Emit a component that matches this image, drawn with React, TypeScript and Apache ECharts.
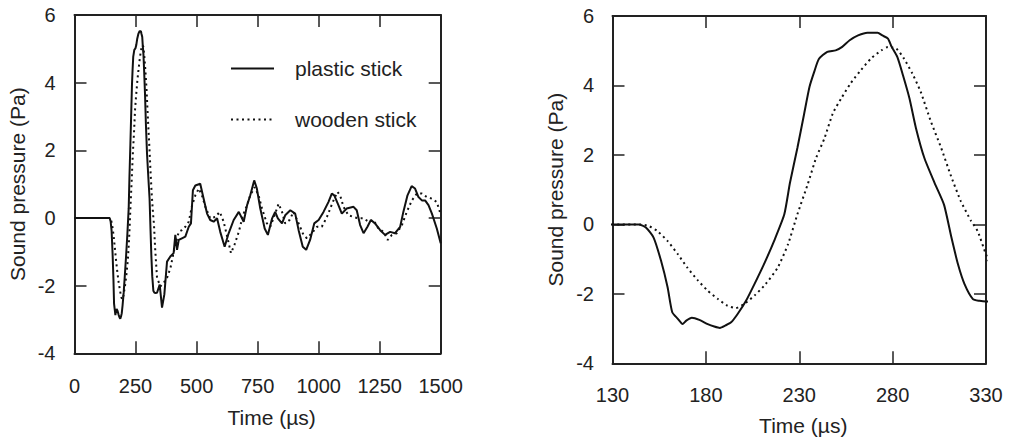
import React, { useEffect, useRef } from "react";
import * as echarts from "echarts";

// Plastic stick (solid line): time in µs, sound pressure in Pa
const plasticTime = [
  0, 144, 148, 152, 156, 159.5, 162, 165, 167.5, 169.5, 172.5, 176.5, 181, 184.5, 187.5, 190.5, 193.5, 197,
  201.5, 206, 211.5, 216.5, 222, 225, 229, 232.5, 235.5, 238, 240.5, 245, 249.5, 253, 257, 261.5, 266.5, 272,
  274.5, 277.5, 279.5, 282.5, 285.5, 289, 292.5, 297, 302.5, 307.5, 311.5, 315, 318.5, 323, 326.5, 330,
  338, 349, 358.5, 368, 379, 392.5, 406, 413, 420, 427, 440, 454, 468, 477, 485, 495, 515, 529, 543, 556, 570,
  584, 597, 615, 631, 652, 673, 693, 707, 720, 736, 747, 761, 779, 792, 809, 822, 833, 850, 863, 884, 904, 918,
  935, 949, 965, 982, 1000, 1020, 1040, 1054, 1064, 1081, 1095, 1115, 1143, 1156, 1170, 1184, 1200, 1214, 1231,
  1252, 1272, 1293, 1313, 1334, 1347, 1364, 1381, 1395, 1409, 1423, 1436, 1450, 1464, 1484, 1500,
];
const plasticPressure = [
  0, 0, -0.1, -0.38, -1.05, -1.81, -2.53, -2.72, -2.87, -2.77, -2.69, -2.75, -2.87, -2.94, -2.98, -2.91, -2.82, -2.58,
  -2.2, -1.72, -1.1, -0.48, 0.29, 1.19, 2.2, 3.15, 3.96, 4.39, 4.76, 4.97, 5.01, 5.11, 5.3, 5.44, 5.52, 5.52,
  5.44, 5.35, 5.11, 4.82, 4.3, 3.63, 2.77, 1.91, 1.19, 0.57, -0.38, -1.15, -1.72, -2.15, -2.2, -2.22,
  -2.21, -1.97, -2.65, -2.26, -1.29, -1.14, -1.04, -0.5, -0.94, -0.65, -0.6, -0.55, -0.26, -0.16, 0.82, 0.96, 1.01, 0.57, 0.13, -0.06, -0.11,
  -0.01, -0.41, -0.85, -0.46, -0.06, 0.18, -0.11, 0.38, 0.67, 1.11, 0.87, 0.28, -0.31, -0.5, -0.02, 0.18, -0.01, -0.16, 0.08, 0.23, 0.13, -0.36,
  -0.85, -0.94, -0.65, -0.16, -0.06, 0.18, 0.47, 0.72, 0.67, 0.38, 0.13, 0.28, 0.33, 0.23, -0.21, -0.45, -0.26, -0.06, -0.16,
  -0.36, -0.5, -0.41, -0.45, -0.26, 0.18, 0.67, 0.94, 0.87, 0.62, 0.52, 0.52, 0.38, 0.13, -0.31, -0.75,
];

// Wooden stick (dotted line)
const woodenTime = [
  0, 145, 149.5, 154, 159.5, 165, 170, 175.5, 181, 186.5, 191.5, 196, 200.5, 206, 212, 218.5, 224, 229, 234.5,
  239, 243.5, 248, 252.5, 257.5, 263, 268.5, 274, 277.5, 282, 286, 290.5, 295, 300.5, 306, 311, 316.5, 322,
  325.5, 330,
  338, 352, 365, 379, 393, 404, 413, 427, 440, 454, 468, 482, 495, 509, 522, 536, 556, 577, 595, 611, 627, 641,
  655, 673, 690, 707, 720, 738, 754, 768, 788, 802, 822, 836, 850, 863, 881, 897, 918, 938, 952, 972, 993, 1013,
  1034, 1058, 1077, 1088, 1102, 1122, 1143, 1163, 1184, 1204, 1225, 1245, 1266, 1283, 1300, 1320, 1341, 1361,
  1382, 1402, 1423, 1443, 1464, 1484, 1500,
];
const woodenPressure = [
  0, 0, -0.05, -0.19, -0.48, -0.86, -1.24, -1.6, -1.91, -2.15, -2.34, -2.41, -2.29, -2.05, -1.72, -1.24, -0.57, 0.29, 1.15,
  1.91, 2.48, 3.2, 3.63, 4.06, 4.44, 4.78, 5.01, 5.11, 5.06, 4.78, 4.35, 3.82, 2.96, 2.2, 1.43, 0.67, 0.1,
  -0.19, -0.86,
  -1.77, -2.02, -1.92, -1.77, -1.48, -1.09, -0.8, -0.41, -0.36, -0.26, -0.11, 0.38, 0.67, 0.87, 0.67, 0.33, -0.01, 0.03, 0.18, -0.11, -0.6, -1.04,
  -0.8, -0.41, 0.08, 0.38, 0.67, 0.91, 0.67, 0.28, -0.16, -0.26, 0.13, 0.42, 0.18, -0.16, -0.06, 0.18, -0.16, -0.5, -0.6, -0.45, -0.26, -0.26,
  0.03, 0.47, 0.77, 0.67, 0.33, 0.08, 0.03, -0.01, -0.01, -0.11, -0.06, -0.31, -0.41, -0.65, -0.5, -0.45, -0.21, 0.18,
  0.52, 0.72, 0.72, 0.62, 0.57, 0.47, 0.1,
];

const seriesNames = ["plastic stick", "wooden stick"];
const xTitle = "Time (µs)";
const yTitle = "Sound pressure (Pa)";

const FONT = 'Arial, "Liberation Sans", Helvetica, sans-serif';
const INK = "#222";

function pairs(ts: number[], vs: number[]) {
  return ts.map((t, i) => [t, vs[i]]);
}

const plainNumber = (v: number) => String(v);

function xAxisPair(grid: number, min: number, max: number, interval: number, labelMargin: number, nameGap: number, padLeft: number) {
  const common = {
    gridIndex: grid,
    type: "value",
    min,
    max,
    interval,
    splitLine: { show: false },
    axisLine: { show: true, onZero: false, lineStyle: { color: INK, width: 2 } },
    axisTick: { show: true, inside: true, length: 12, lineStyle: { color: INK, width: 1.5 } },
  };
  return [
    {
      ...common,
      position: "bottom",
      axisLabel: { fontSize: 20, color: INK, margin: labelMargin, fontFamily: FONT, formatter: plainNumber },
      name: xTitle,
      nameLocation: "middle",
      nameGap,
      nameTextStyle: { fontSize: 21, color: INK, fontFamily: FONT, padding: [0, 0, 0, padLeft] },
    },
    { ...common, position: "top", axisLabel: { show: false } },
  ];
}

function yAxisPair(grid: number, labelMargin: number, nameGap: number) {
  const common = {
    gridIndex: grid,
    type: "value",
    min: -4,
    max: 6,
    interval: 2,
    splitLine: { show: false },
    axisLine: { show: true, onZero: false, lineStyle: { color: INK, width: 2 } },
    axisTick: { show: true, inside: true, length: 12, lineStyle: { color: INK, width: 1.5 } },
  };
  return [
    {
      ...common,
      position: "left",
      axisLabel: { fontSize: 20, color: INK, margin: labelMargin, fontFamily: FONT, formatter: plainNumber },
      name: yTitle,
      nameLocation: "middle",
      nameGap,
      nameRotate: 90,
      nameTextStyle: { fontSize: 21, color: INK, fontFamily: FONT },
    },
    { ...common, position: "right", axisLabel: { show: false } },
  ];
}

export default function App() {
  const ref = useRef<HTMLDivElement>(null);

  useEffect(() => {
    if (!ref.current) return;
    const chart = echarts.init(ref.current, null, { renderer: "svg" });
    const plastic = pairs(plasticTime, plasticPressure);
    const wooden = pairs(woodenTime, woodenPressure);
    const solid = { color: "#111", width: 2 };
    const dotted = { color: "#111", width: 2, type: [2, 3.5] as number[] };

    chart.setOption({
      animation: false,
      backgroundColor: "#fff",
      textStyle: { fontFamily: FONT },
      grid: [
        { left: 74.5, top: 15, width: 366.2, height: 338.3 },
        { left: 612.5, top: 16, width: 373.5, height: 347.3 },
      ],
      xAxis: [
        ...xAxisPair(0, 0, 1500, 250, 23, 54, 28),
        ...xAxisPair(1, 130, 330, 50, 22, 52, 8),
      ],
      yAxis: [...yAxisPair(0, 19, 47), ...yAxisPair(1, 18.5, 46.5)],
      legend: {
        data: seriesNames,
        orient: "vertical",
        left: 230,
        top: 58,
        padding: 0,
        itemWidth: 43,
        itemHeight: 14,
        itemGap: 30,
        itemStyle: { opacity: 0 },
        textStyle: { fontSize: 21, color: INK, fontFamily: FONT, lineHeight: 21, padding: [0, 0, 0, 16] },
        selectedMode: false,
      },
      series: [
        {
          name: seriesNames[0], type: "line", xAxisIndex: 0, yAxisIndex: 0, data: plastic,
          showSymbol: false, symbol: "none", lineStyle: solid, itemStyle: { color: "#111" }, z: 3,
        },
        {
          name: seriesNames[1], type: "line", xAxisIndex: 0, yAxisIndex: 0, data: wooden,
          showSymbol: false, symbol: "none", lineStyle: dotted, itemStyle: { color: "#111" }, z: 2,
        },
        {
          name: seriesNames[0], type: "line", xAxisIndex: 2, yAxisIndex: 2, data: plastic,
          showSymbol: false, symbol: "none", smooth: 0.2, lineStyle: solid, itemStyle: { color: "#111" }, z: 3,
        },
        {
          name: seriesNames[1], type: "line", xAxisIndex: 2, yAxisIndex: 2, data: wooden,
          showSymbol: false, symbol: "none", smooth: 0.2, lineStyle: dotted, itemStyle: { color: "#111" }, z: 2,
        },
      ],
    });
    return () => chart.dispose();
  }, []);

  return (
    <div
      ref={ref}
      style={{ position: "absolute", left: 0, top: 0, width: 1013, height: 443, background: "#fff" }}
    />
  );
}
